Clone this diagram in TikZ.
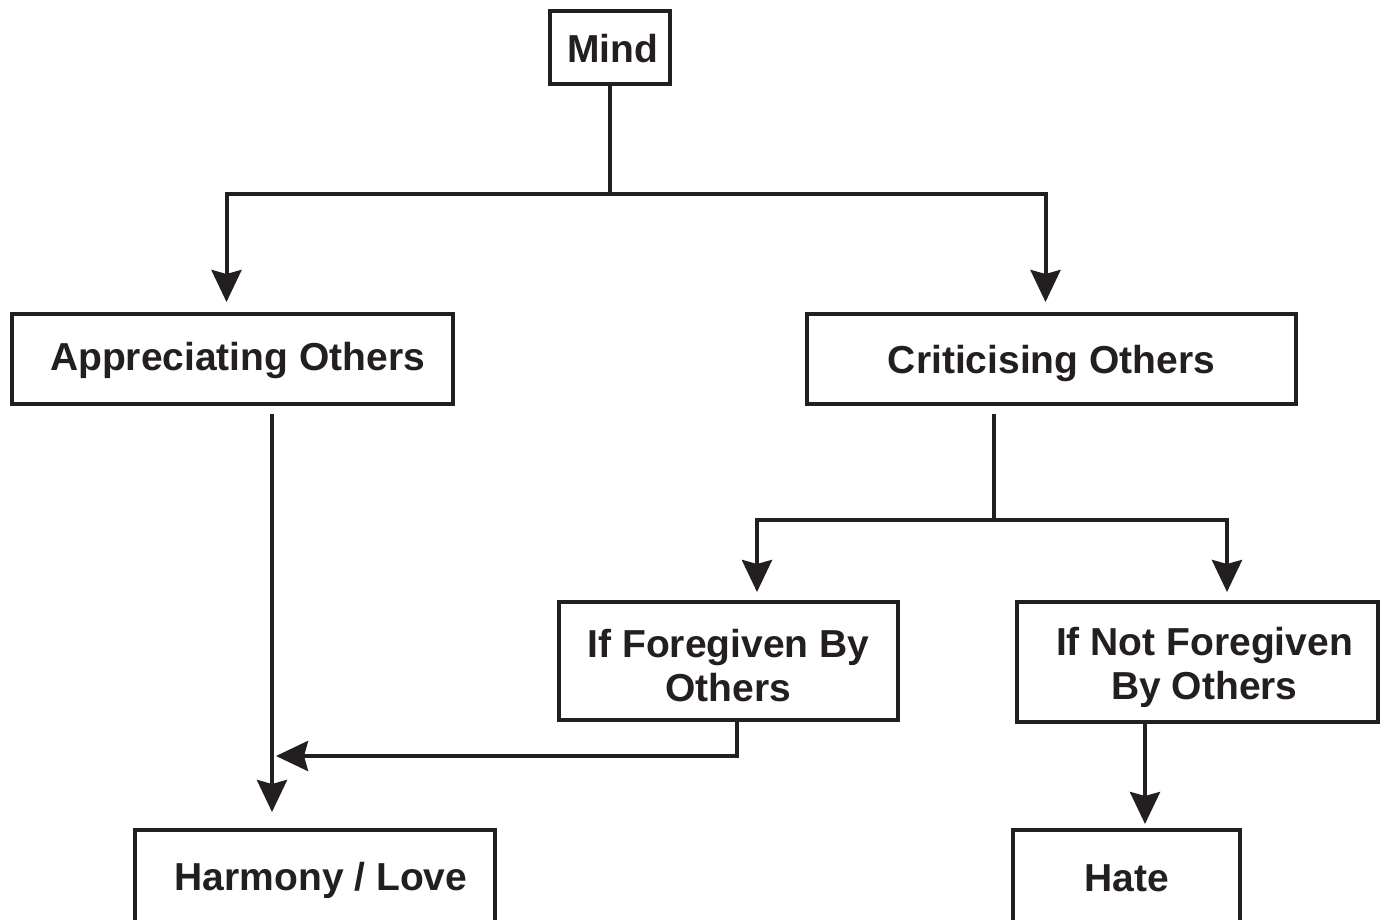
\documentclass[tikz,border=0pt]{standalone}
\usepackage{fontspec}
\setmainfont{Liberation Sans}
\usetikzlibrary{arrows.meta}
\definecolor{ink}{HTML}{231F20}
\newcommand\tshift[3]{\raisebox{#2}[\height][\depth]{\hspace*{#1}#3}}
\begin{document}
\begin{tikzpicture}[x=1pt,y=-1pt,
  box/.style={draw=ink,line width=4pt,inner sep=0pt,align=center,text=ink,
    font=\fontsize{39}{44}\selectfont\bfseries},
  conn/.style={draw=ink,line width=4pt},
  arr/.style={conn,-{Stealth[length=32pt,width=30pt,inset=4pt]}}]
\useasboundingbox (0,0) rectangle (1384,919);
\clip (0,0) rectangle (1384,919);
\fill[white] (0,0) rectangle (1384,919);
% nodes
\node[box,minimum width=120,minimum height=73] (mind) at (610,47.5) {\tshift{5pt}{-1pt}{Mind}};
\node[box,minimum width=441,minimum height=90] (app) at (232.5,359) {\tshift{10pt}{-1pt}{Appreciating Others}};
\node[box,minimum width=489,minimum height=90] (crit) at (1051.5,359) {\tshift{0pt}{-4pt}{Criticising Others}};
\node[box,minimum width=339,minimum height=118] (ifg) at (728.5,661) {\tshift{0pt}{-9.5pt}{\begin{tabular}{@{}c@{}}If Foregiven By\\Others\end{tabular}}};
\node[box,minimum width=361,minimum height=120] (ifn) at (1197.5,662) {\tshift{14pt}{-6.5pt}{\begin{tabular}{@{}c@{}}If Not Foregiven\\By Others\end{tabular}}};
\node[box,minimum width=360,minimum height=98] (harm) at (315,879) {\tshift{12pt}{-1pt}{Harmony / Love}};
\node[box,minimum width=227,minimum height=98] (hate) at (1126.5,879) {\tshift{0pt}{1pt}{Hate}};
% junctions
\coordinate (s1) at (610,194);
\coordinate (s2) at (994,520);
\coordinate (j1) at (272,756);
% connectors
\draw[conn] (mind.south) -- (s1);
\draw[arr,shorten >=10pt] (s1) -| ([xshift=-6]app.north);
\draw[arr,shorten >=10pt] (s1) -| ([xshift=-6]crit.north);
\draw[conn,shorten <=8pt] (s2 |- crit.south) -- (s2);
\draw[arr,shorten >=8pt] (s2) -| ([xshift=28.5]ifg.north);
\draw[arr,shorten >=8pt] (s2) -| ([xshift=29.5]ifn.north);
\draw[arr,shorten <=8pt,shorten >=16pt] (j1 |- app.south) -- (j1 |- harm.north);
\draw[arr,shorten >=4pt] ([xshift=8.5]ifg.south) |- (j1);
\draw[arr,shorten >=4pt] ([xshift=-52.5]ifn.south) -- ([xshift=-52.5]ifn.south |- hate.north);
\end{tikzpicture}
\end{document}
